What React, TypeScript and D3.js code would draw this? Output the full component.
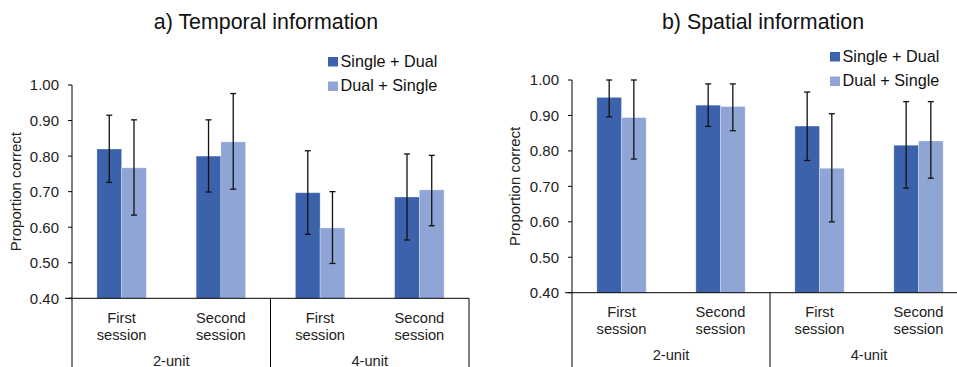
import React from "react";
import * as d3 from "d3";

// categories
const sessions = ["First session", "Second session", "First session", "Second session"];
const units = ["2-unit", "4-unit"];
const seriesNames = ["Single + Dual", "Dual + Single"];
const yTicks = [0.4, 0.5, 0.6, 0.7, 0.8, 0.9, 1.0];

// a) temporal
const temporalMean = [
  [0.82, 0.8, 0.697, 0.685],
  [0.767, 0.84, 0.598, 0.705],
];
const temporalLow = [
  [0.726, 0.699, 0.58, 0.564],
  [0.634, 0.707, 0.498, 0.604],
];
const temporalHigh = [
  [0.915, 0.902, 0.815, 0.806],
  [0.902, 0.976, 0.7, 0.802],
];

// b) spatial
const spatialMean = [
  [0.951, 0.929, 0.87, 0.816],
  [0.894, 0.925, 0.751, 0.828],
];
const spatialLow = [
  [0.896, 0.869, 0.773, 0.695],
  [0.777, 0.857, 0.6, 0.723],
];
const spatialHigh = [
  [1.0, 0.989, 0.966, 0.939],
  [1.0, 0.989, 0.905, 0.939],
];

const colors = ["#3c62ab", "#8fa5d6"];
const font = "'Liberation Sans', Arial, sans-serif";

type PanelProps = {
  title: string;
  titleX: number;
  mean: number[][];
  low: number[][];
  high: number[][];
  left: number;
  right: number;
  top: number;
  bottom: number;
  yTitleX: number;
  legendX: number;
  legendY: number;
  labelY: number;
};

const Panel = (p: PanelProps) => {
  const y = d3.scaleLinear().domain([0.4, 1]).range([p.bottom, p.top]);
  const x = d3
    .scaleBand<number>()
    .domain(d3.range(sessions.length))
    .range([p.left, p.right])
    .padding(0);
  const step = x.step();
  const barW = step * 0.249;
  const sub = d3
    .scaleBand<number>()
    .domain(d3.range(seriesNames.length))
    .range([step / 2 - barW, step / 2 + barW])
    .padding(0);
  const unitScale = d3
    .scaleBand<string>()
    .domain(units)
    .range([p.left, p.right]);
  const lineColor = "#000";

  return (
    <g fontFamily={font}>
      <text x={p.titleX} y={29} fontSize={21.4} textAnchor="middle" fill="#111">
        {p.title}
      </text>
      {/* y axis */}
      <line x1={p.left} x2={p.left} y1={p.top} y2={p.bottom} stroke={lineColor} strokeWidth={1} />
      {yTicks.map((t) => (
        <g key={t}>
          <line x1={p.left - 4} x2={p.left} y1={y(t)} y2={y(t)} stroke={lineColor} />
          <text x={p.left - 13} y={y(t)} dy="0.36em" fontSize={15} textAnchor="end" fill="#222">
            {t.toFixed(2)}
          </text>
        </g>
      ))}
      <text
        transform={`translate(${p.yTitleX},${(p.top + p.bottom) / 2}) rotate(-90)`}
        fontSize={15}
        textAnchor="middle"
        fill="#222"
      >
        Proportion correct
      </text>
      {/* bars */}
      {seriesNames.map((s, si) =>
        p.mean[si].map((v, ci) => (
          <rect
            key={`${s}-${ci}`}
            x={(x(ci) ?? 0) + (sub(si) ?? 0)}
            y={y(v)}
            width={sub.bandwidth()}
            height={y(0.4) - y(v)}
            fill={colors[si]}
            stroke="#ffffff"
            strokeOpacity={0.35}
            strokeWidth={0.8}
          />
        ))
      )}
      {/* error bars */}
      {seriesNames.map((s, si) =>
        p.mean[si].map((_, ci) => {
          const cx = (x(ci) ?? 0) + (sub(si) ?? 0) + sub.bandwidth() / 2;
          return (
            <g key={`e-${s}-${ci}`} stroke="#111" strokeWidth={1.3}>
              <line x1={cx} x2={cx} y1={y(p.low[si][ci])} y2={y(p.high[si][ci])} />
              <line x1={cx - 3} x2={cx + 3} y1={y(p.low[si][ci])} y2={y(p.low[si][ci])} />
              <line x1={cx - 3} x2={cx + 3} y1={y(p.high[si][ci])} y2={y(p.high[si][ci])} />
            </g>
          );
        })
      )}
      {/* category axis */}
      <line x1={p.left - 7} x2={p.right} y1={p.bottom} y2={p.bottom} stroke={lineColor} />
      {[p.left, (p.left + p.right) / 2, p.right].map((lx, i) => (
        <line key={i} x1={lx} x2={lx} y1={p.bottom} y2={380} stroke={lineColor} />
      ))}
      {sessions.map((c, ci) => {
        const [a, b] = c.split(" ");
        const cx = (x(ci) ?? 0) + step / 2;
        return (
          <text key={ci} x={cx} y={p.labelY} fontSize={14.7} textAnchor="middle" fill="#222">
            <tspan x={cx}>{a}</tspan>
            <tspan x={cx} dy={16.5}>
              {b}
            </tspan>
          </text>
        );
      })}
      {units.map((u) => (
        <text
          key={u}
          x={(unitScale(u) ?? 0) + unitScale.bandwidth() / 2}
          y={p.labelY + 43}
          fontSize={14.7}
          textAnchor="middle"
          fill="#222"
        >
          {u}
        </text>
      ))}
      {/* legend */}
      {seriesNames.map((s, si) => (
        <g key={s} transform={`translate(${p.legendX},${p.legendY + si * 24.5})`}>
          <rect x={0} y={-9.5} width={10} height={9.5} fill={colors[si]} />
          <text x={12.5} y={0} fontSize={16.2} fill="#111">
            {s}
          </text>
        </g>
      ))}
    </g>
  );
};

export default function App() {
  return (
    <svg
      width={957}
      height={367}
      style={{ position: "absolute", left: 0, top: 0, background: "#fff" }}
    >
      <rect width={957} height={367} fill="#fff" />
      <Panel
        title="a) Temporal information"
        titleX={266}
        mean={temporalMean}
        low={temporalLow}
        high={temporalHigh}
        left={72}
        right={469}
        top={85}
        bottom={298.3}
        yTitleX={21}
        legendX={328}
        legendY={66.5}
        labelY={323}
      />
      <Panel
        title="b) Spatial information"
        titleX={763}
        mean={spatialMean}
        low={spatialLow}
        high={spatialHigh}
        left={572}
        right={968}
        top={80}
        bottom={292.7}
        yTitleX={520}
        legendX={830}
        legendY={61.5}
        labelY={317}
      />
    </svg>
  );
}
